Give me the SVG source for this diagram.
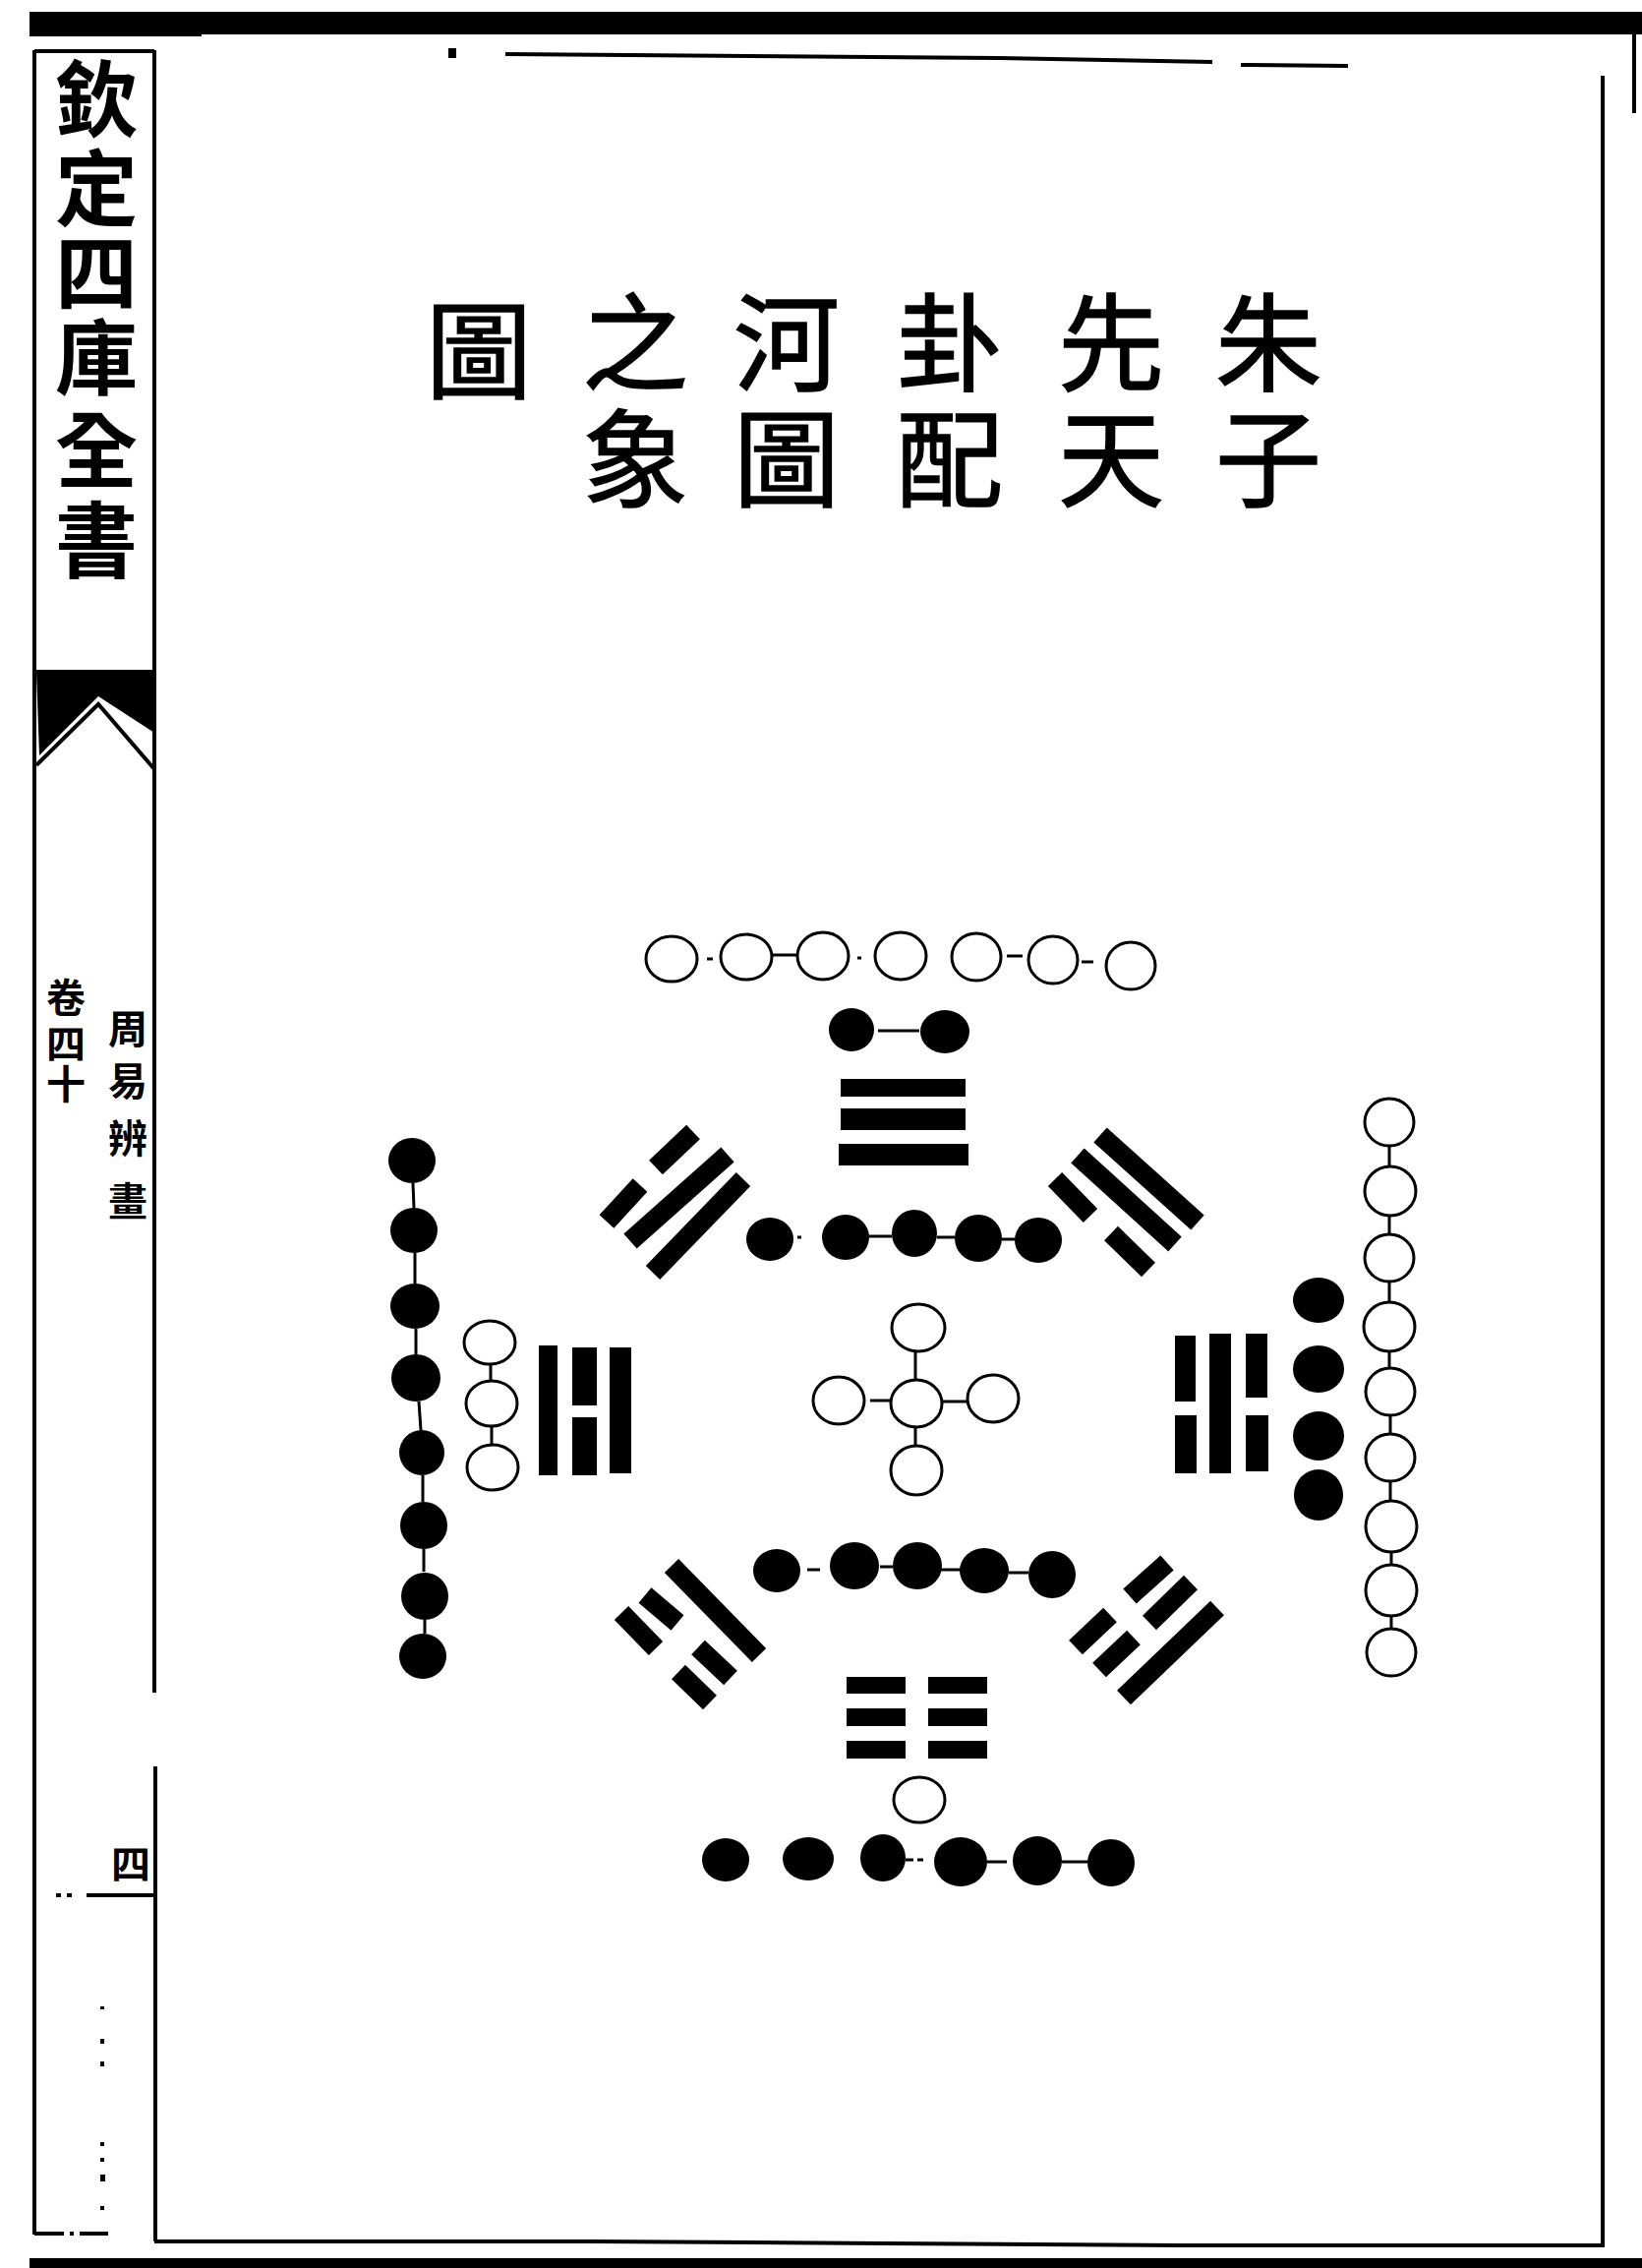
<svg xmlns="http://www.w3.org/2000/svg" width="1670" height="2306" viewBox="0 0 1670 2306">
<style>
.w{fill:#fff;stroke:#000;stroke-width:3}
.b{fill:#000}
.c{stroke:#000;stroke-width:3;fill:none}
.bar{stroke:#000;stroke-width:20;stroke-linecap:butt;fill:none}
.fr{stroke:#000;stroke-width:4;fill:none}
.cjk{font-family:'Liberation Serif','Noto Sans CJK TC','Noto Sans CJK SC',serif;fill:#000;text-anchor:middle;dominant-baseline:central}
.t1{font-size:108px;font-weight:400;stroke:#000;stroke-width:1.5}
.t2{font-size:84px;font-weight:700}
.t3{font-size:40px;font-weight:700}
</style>
<rect x="0" y="0" width="1670" height="2306" fill="#fff"/>

<g id="frame">
  <rect x="30" y="12" width="1640" height="23" class="b"/>
  <rect x="30" y="30" width="175" height="7" class="b"/>
  <rect x="1660" y="35" width="4" height="80" class="b"/>
  <rect x="30" y="2296" width="1640" height="10" class="b"/>
  <line x1="35" y1="51" x2="35" y2="2272" class="fr"/>
  <line x1="35" y1="52" x2="157" y2="52" class="fr"/>
  <line x1="157" y1="51" x2="157" y2="1721" class="fr"/>
  <line x1="158" y1="1796" x2="158" y2="2279" class="fr" stroke-width="5"/>
  <line x1="35" y1="683" x2="157" y2="683" class="fr"/>
  <polygon points="37,683 157,683 157,745 100,708 40,768" class="b"/>
  <polyline points="37,778 100,716 157,782" class="fr"/>
  <line x1="57" y1="1927" x2="75" y2="1927" class="fr" stroke-dasharray="5 6"/>
  <line x1="88" y1="1927" x2="157" y2="1927" class="fr"/>
  <g class="b">
    <rect x="102" y="2040" width="4" height="3"/>
    <rect x="102" y="2073" width="4" height="5"/>
    <rect x="102" y="2096" width="4" height="5"/>
    <rect x="102" y="2178" width="4" height="4"/>
    <rect x="102" y="2194" width="4" height="4"/>
    <rect x="102" y="2211" width="5" height="7"/>
    <rect x="102" y="2243" width="4" height="4"/>
  </g>
  <line x1="35" y1="2271" x2="110" y2="2271" class="fr" stroke-dasharray="30 6 4 6"/>
  <polyline points="157,2279 600,2279 900,2281 1200,2283 1632,2283" class="fr"/>
  <line x1="1630" y1="77" x2="1630" y2="2283" class="fr"/>
  <polyline points="514,55 1015,59 1233,63" class="fr" stroke-width="5"/>
  <line x1="1262" y1="66" x2="1371" y2="67" class="fr"/>
  <rect x="456" y="49" width="8" height="10" class="b"/>
</g>

<g id="header-column">
  <text class="cjk t2" x="98" y="103">欽</text>
  <text class="cjk t2" x="98" y="194">定</text>
  <text class="cjk t2" x="98" y="280">四</text>
  <text class="cjk t2" x="98" y="366">庫</text>
  <text class="cjk t2" x="98" y="460">全</text>
  <text class="cjk t2" x="98" y="552">書</text>
  <text class="cjk t3" x="67" y="1015">卷</text>
  <text class="cjk t3" x="67" y="1062">四</text>
  <text class="cjk t3" x="67" y="1103">十</text>
  <text class="cjk t3" x="130" y="1047">周</text>
  <text class="cjk t3" x="130" y="1100">易</text>
  <text class="cjk t3" x="130" y="1158">辨</text>
  <text class="cjk t3" x="130" y="1222">畫</text>
  <text class="cjk t3" x="133" y="1896">四</text>
</g>

<g id="title">
  <text class="cjk t1" x="1290" y="352">朱</text>
  <text class="cjk t1" x="1290" y="470">子</text>
  <text class="cjk t1" x="1130" y="352">先</text>
  <text class="cjk t1" x="1130" y="470">天</text>
  <text class="cjk t1" x="966" y="352">卦</text>
  <text class="cjk t1" x="966" y="470">配</text>
  <text class="cjk t1" x="800" y="352">河</text>
  <text class="cjk t1" x="800" y="470">圖</text>
  <text class="cjk t1" x="646" y="352">之</text>
  <text class="cjk t1" x="646" y="470">象</text>
  <text class="cjk t1" x="487" y="360">圖</text>
</g>

<g id="connectors">
  <line x1="719" y1="975" x2="725" y2="975" class="c"/>
  <line x1="785" y1="971" x2="810" y2="971" class="c"/>
  <line x1="872" y1="974" x2="876" y2="974" class="c"/>
  <line x1="1024" y1="972" x2="1040" y2="972" class="c"/>
  <line x1="1100" y1="978" x2="1112" y2="978" class="c"/>
  <line x1="893" y1="1048" x2="935" y2="1048" class="c"/>
  <line x1="811" y1="1258" x2="815" y2="1258" class="c"/>
  <line x1="884" y1="1257" x2="907" y2="1257" class="c"/>
  <line x1="953" y1="1258" x2="971" y2="1258" class="c"/>
  <line x1="1019" y1="1260" x2="1032" y2="1260" class="c"/>
  <line x1="931" y1="1374" x2="931" y2="1403" class="c" stroke-width="4"/>
  <line x1="958" y1="1425" x2="984" y2="1425" class="c"/>
  <line x1="885" y1="1424" x2="907" y2="1424" class="c"/>
  <line x1="931" y1="1450" x2="931" y2="1470" class="c" stroke-width="4"/>
  <line x1="821" y1="1596" x2="834" y2="1596" class="c"/>
  <line x1="895" y1="1593" x2="908" y2="1593" class="c"/>
  <line x1="957" y1="1596" x2="977" y2="1596" class="c"/>
  <line x1="1026" y1="1599" x2="1046" y2="1599" class="c"/>
  <line x1="921" y1="1891" x2="929" y2="1891" class="c"/>
  <line x1="933" y1="1891" x2="939" y2="1891" class="c"/>
  <line x1="1004" y1="1893" x2="1024" y2="1893" class="c"/>
  <line x1="1080" y1="1893" x2="1107" y2="1893" class="c"/>
  <line x1="420" y1="1203" x2="421" y2="1228" class="c" stroke-width="4"/>
  <line x1="422" y1="1274" x2="422" y2="1305" class="c"/>
  <line x1="423" y1="1351" x2="423" y2="1377" class="c"/>
  <line x1="426" y1="1425" x2="428" y2="1454" class="c"/>
  <line x1="430" y1="1500" x2="430" y2="1527" class="c"/>
  <line x1="431" y1="1575" x2="431" y2="1598" class="c"/>
  <line x1="432" y1="1647" x2="432" y2="1661" class="c"/>
  <line x1="499" y1="1387" x2="499" y2="1404" class="c" stroke-width="4"/>
  <line x1="500" y1="1450" x2="500" y2="1469" class="c" stroke-width="4"/>
  <line x1="1413" y1="1165" x2="1413" y2="1187" class="c"/>
  <line x1="1413" y1="1236" x2="1413" y2="1255" class="c"/>
  <line x1="1413" y1="1303" x2="1413" y2="1325" class="c"/>
  <line x1="1413" y1="1374" x2="1413" y2="1391" class="c"/>
  <line x1="1414" y1="1439" x2="1414" y2="1458" class="c"/>
  <line x1="1414" y1="1506" x2="1414" y2="1527" class="c"/>
  <line x1="1415" y1="1578" x2="1415" y2="1591" class="c"/>
  <line x1="1415" y1="1643" x2="1415" y2="1656" class="c"/>
</g>

<g id="top-white-seven">
  <ellipse cx="683" cy="975" rx="26" ry="23" class="w"/>
  <ellipse cx="759" cy="973" rx="26" ry="23" class="w"/>
  <ellipse cx="837" cy="972" rx="26" ry="24" class="w"/>
  <ellipse cx="916" cy="972" rx="26" ry="24" class="w"/>
  <ellipse cx="993" cy="973" rx="25" ry="24" class="w"/>
  <ellipse cx="1071" cy="976" rx="25" ry="24" class="w"/>
  <ellipse cx="1150" cy="982" rx="25" ry="24" class="w"/>
</g>
<g id="top-black-two">
  <ellipse cx="866" cy="1047" rx="23" ry="22" class="b"/>
  <ellipse cx="961" cy="1049" rx="25" ry="22" class="b"/>
</g>
<g id="trigram-qian">
  <rect x="855" y="1097" width="127" height="18" class="b"/>
  <rect x="855" y="1127" width="127" height="22" class="b"/>
  <rect x="853" y="1163" width="132" height="22" class="b"/>
</g>
<g id="top-black-five">
  <ellipse cx="783" cy="1260" rx="24" ry="22" class="b"/>
  <ellipse cx="860" cy="1258" rx="24" ry="23" class="b"/>
  <ellipse cx="930" cy="1254" rx="23" ry="24" class="b"/>
  <ellipse cx="995" cy="1259" rx="24" ry="24" class="b"/>
  <ellipse cx="1056" cy="1261" rx="24" ry="23" class="b"/>
</g>
<g id="trigram-dui">
  <line x1="667" y1="1187" x2="705" y2="1151" class="bar"/>
  <line x1="617" y1="1242" x2="651" y2="1205" class="bar"/>
  <line x1="641" y1="1262" x2="740" y2="1174" class="bar"/>
  <line x1="664" y1="1294" x2="756" y2="1199" class="bar"/>
</g>
<g id="trigram-xun">
  <line x1="1119" y1="1154" x2="1218" y2="1243" class="bar"/>
  <line x1="1096" y1="1175" x2="1195" y2="1265" class="bar"/>
  <line x1="1073" y1="1199" x2="1109" y2="1236" class="bar"/>
  <line x1="1130" y1="1254" x2="1168" y2="1291" class="bar"/>
</g>
<g id="left-black-eight">
  <ellipse cx="419" cy="1180" rx="24" ry="23" class="b"/>
  <ellipse cx="421" cy="1251" rx="24" ry="23" class="b"/>
  <ellipse cx="422" cy="1328" rx="25" ry="23" class="b"/>
  <ellipse cx="423" cy="1401" rx="25" ry="24" class="b"/>
  <ellipse cx="429" cy="1477" rx="23" ry="23" class="b"/>
  <ellipse cx="431" cy="1551" rx="24" ry="24" class="b"/>
  <ellipse cx="432" cy="1623" rx="24" ry="24" class="b"/>
  <ellipse cx="430" cy="1684" rx="24" ry="23" class="b"/>
</g>
<g id="left-white-three">
  <ellipse cx="498" cy="1365" rx="26" ry="22" class="w"/>
  <ellipse cx="500" cy="1427" rx="26" ry="23" class="w"/>
  <ellipse cx="501" cy="1492" rx="26" ry="23" class="w"/>
</g>
<g id="trigram-li">
  <rect x="548" y="1368" width="19" height="132" class="b"/>
  <rect x="582" y="1370" width="25" height="59" class="b"/>
  <rect x="582" y="1441" width="25" height="59" class="b"/>
  <rect x="620" y="1370" width="22" height="128" class="b"/>
</g>
<g id="center-white-five">
  <ellipse cx="934" cy="1350" rx="27" ry="24" class="w"/>
  <ellipse cx="932" cy="1427" rx="26" ry="24" class="w"/>
  <ellipse cx="853" cy="1424" rx="26" ry="24" class="w"/>
  <ellipse cx="1010" cy="1422" rx="26" ry="24" class="w"/>
  <ellipse cx="932" cy="1495" rx="26" ry="25" class="w"/>
</g>
<g id="trigram-kan">
  <rect x="1195" y="1358" width="21" height="67" class="b"/>
  <rect x="1195" y="1439" width="22" height="59" class="b"/>
  <rect x="1230" y="1356" width="22" height="142" class="b"/>
  <rect x="1267" y="1356" width="22" height="65" class="b"/>
  <rect x="1267" y="1439" width="23" height="57" class="b"/>
</g>
<g id="right-black-four">
  <ellipse cx="1341" cy="1322" rx="26" ry="23" class="b"/>
  <ellipse cx="1341" cy="1392" rx="26" ry="24" class="b"/>
  <ellipse cx="1341" cy="1460" rx="26" ry="25" class="b"/>
  <ellipse cx="1341" cy="1520" rx="25" ry="26" class="b"/>
</g>
<g id="right-white-nine">
  <ellipse cx="1413" cy="1141" rx="25" ry="24" class="w"/>
  <ellipse cx="1414" cy="1211" rx="26" ry="25" class="w"/>
  <ellipse cx="1413" cy="1279" rx="25" ry="24" class="w"/>
  <ellipse cx="1413" cy="1349" rx="26" ry="25" class="w"/>
  <ellipse cx="1414" cy="1415" rx="25" ry="24" class="w"/>
  <ellipse cx="1414" cy="1482" rx="25" ry="24" class="w"/>
  <ellipse cx="1415" cy="1552" rx="26" ry="26" class="w"/>
  <ellipse cx="1415" cy="1617" rx="26" ry="26" class="w"/>
  <ellipse cx="1415" cy="1680" rx="25" ry="24" class="w"/>
</g>
<g id="bottom-black-five">
  <ellipse cx="790" cy="1597" rx="24" ry="22" class="b"/>
  <ellipse cx="869" cy="1592" rx="25" ry="24" class="b"/>
  <ellipse cx="933" cy="1592" rx="25" ry="24" class="b"/>
  <ellipse cx="1001" cy="1597" rx="25" ry="23" class="b"/>
  <ellipse cx="1070" cy="1601" rx="24" ry="24" class="b"/>
</g>
<g id="trigram-zhen">
  <line x1="683" y1="1592" x2="772" y2="1683" class="bar"/>
  <line x1="656" y1="1622" x2="689" y2="1650" class="bar"/>
  <line x1="710" y1="1675" x2="743" y2="1706" class="bar"/>
  <line x1="632" y1="1640" x2="667" y2="1676" class="bar"/>
  <line x1="690" y1="1700" x2="722" y2="1731" class="bar"/>
</g>
<g id="trigram-gen">
  <line x1="1149" y1="1623" x2="1187" y2="1589" class="bar"/>
  <line x1="1094" y1="1675" x2="1129" y2="1642" class="bar"/>
  <line x1="1169" y1="1650" x2="1211" y2="1609" class="bar"/>
  <line x1="1118" y1="1698" x2="1153" y2="1665" class="bar"/>
  <line x1="1143" y1="1726" x2="1238" y2="1635" class="bar"/>
</g>
<g id="trigram-kun">
  <rect x="861" y="1705" width="60" height="17" class="b"/>
  <rect x="944" y="1705" width="60" height="17" class="b"/>
  <rect x="861" y="1737" width="60" height="18" class="b"/>
  <rect x="944" y="1737" width="60" height="18" class="b"/>
  <rect x="861" y="1770" width="60" height="18" class="b"/>
  <rect x="944" y="1770" width="60" height="18" class="b"/>
</g>
<g id="bottom-white-one">
  <ellipse cx="935" cy="1830" rx="26" ry="23" class="w"/>
</g>
<g id="bottom-black-six">
  <ellipse cx="738" cy="1891" rx="24" ry="22" class="b"/>
  <ellipse cx="822" cy="1890" rx="26" ry="22" class="b"/>
  <ellipse cx="898" cy="1889" rx="23" ry="24" class="b"/>
  <ellipse cx="977" cy="1893" rx="27" ry="25" class="b"/>
  <ellipse cx="1055" cy="1892" rx="25" ry="25" class="b"/>
  <ellipse cx="1130" cy="1894" rx="24" ry="24" class="b"/>
</g>
</svg>
